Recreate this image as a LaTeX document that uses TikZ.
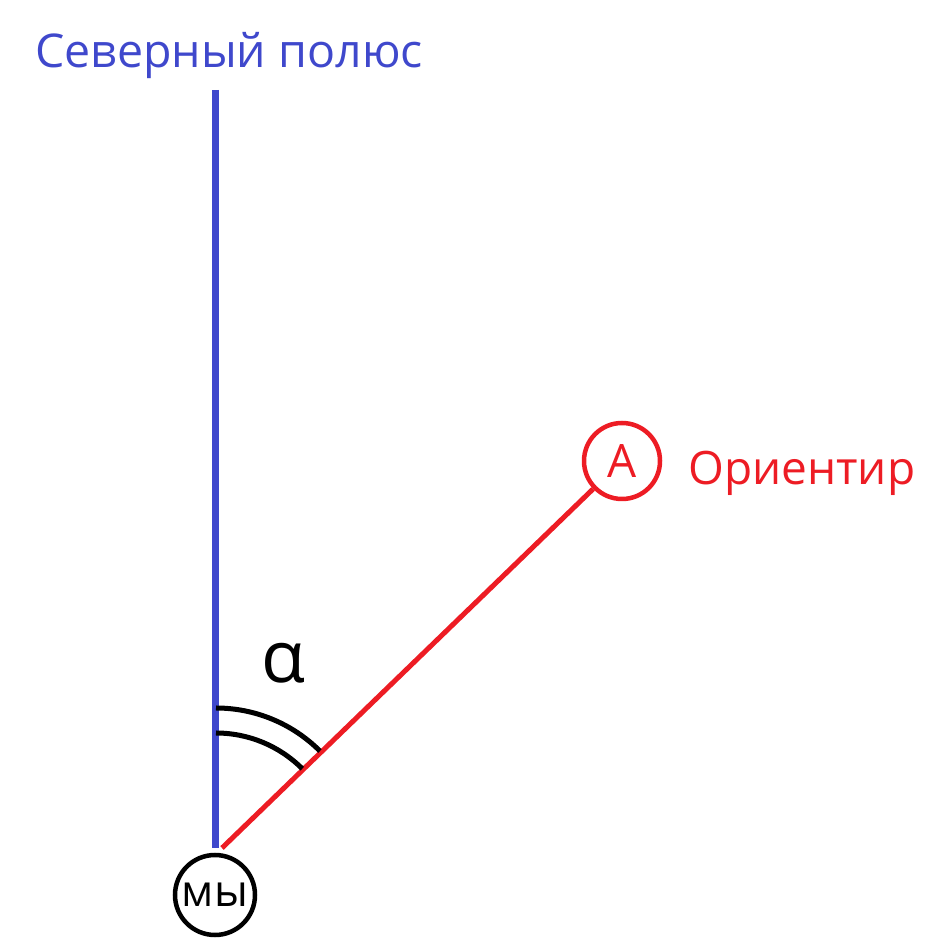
\documentclass[tikz,border=0pt]{standalone}
\usepackage{fontspec}
\setmainfont{Open Sans}
\definecolor{indigo}{RGB}{63,72,204}
\definecolor{pred}{RGB}{237,28,36}
\tikzset{
  lbl/.style={inner sep=0pt, anchor=base west},
  ring/.style={circle, draw, line width=4.5pt, inner sep=0pt},
  anglearc/.style={line width=5pt, draw=black}
}
\begin{document}
\begin{tikzpicture}[x=1pt,y=1pt]
\useasboundingbox (0,0) rectangle (941,947);
\node[lbl, text=indigo, font=\fontsize{46.5}{56}\selectfont] (north) at (35,879) {Северный полюс};
\coordinate (ntop) at (215,857);
\coordinate (nbot) at (215,99);
\draw[indigo, line width=7pt] (ntop) -- (nbot);
\node[ring, draw=black, minimum size=80pt, font=\fontsize{44}{50}\selectfont] (me) at (215,52) {мы};
\node[ring, draw=pred, text=pred, minimum size=76pt, font=\fontsize{46}{52}\selectfont] (A) at (622,486) {A};
\node[lbl, text=pred, font=\fontsize{46}{54}\selectfont] (orient) at (688,462) {Ориентир};
\coordinate (rv) at (222,99);
\draw[pred, line width=5pt] (rv) -- (A);
\coordinate (c) at (216,92);
\draw[anglearc] (c) ++(90:147) arc[start angle=90, end angle=45, radius=147];
\draw[anglearc] (c) ++(90:122) arc[start angle=90, end angle=45, radius=122];
\node[inner sep=0pt, font=\fontsize{72}{80}\selectfont] (alpha) at (283,284) {α};
\end{tikzpicture}
\end{document}
